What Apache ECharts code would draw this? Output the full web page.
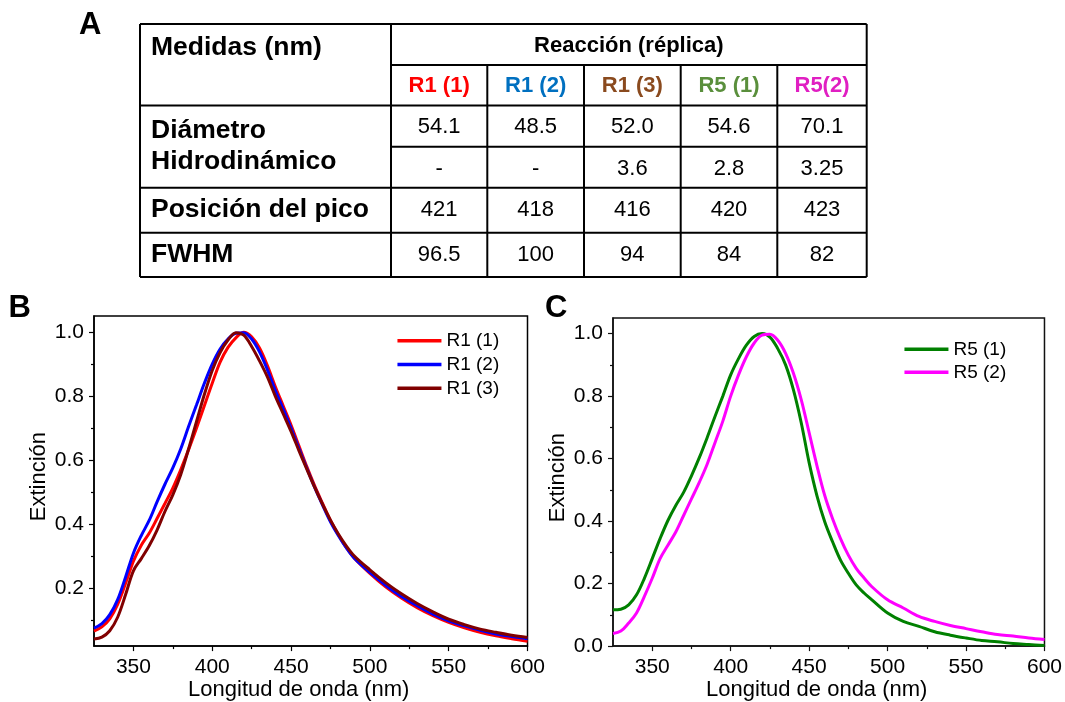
<!DOCTYPE html>
<html>
<head>
<meta charset="utf-8">
<script src="https://cdn.jsdelivr.net/npm/echarts@6/dist/echarts.min.js"></script>
<style>
html,body{margin:0;padding:0;background:#fff;}
#chart{width:1065px;height:702px;}
</style>
</head>
<body>
<div id="chart"></div>
<script>
// ---------- DATA ----------
const WL = [325,330,335,340,345,350,355,360,365,370,375,380,385,390,395,400,405,410,415,420,425,430,435,440,445,450,455,460,465,470,475,480,485,490,500,510,520,530,540,550,560,570,580,590,600];
const R1_1 = [0.067,0.080,0.105,0.150,0.215,0.285,0.335,0.372,0.418,0.465,0.513,0.570,0.633,0.700,0.770,0.840,0.906,0.952,0.982,0.999,0.985,0.950,0.895,0.830,0.770,0.710,0.645,0.580,0.520,0.465,0.412,0.368,0.328,0.295,0.247,0.205,0.170,0.140,0.115,0.094,0.077,0.063,0.052,0.043,0.035];
const R1_2 = [0.076,0.090,0.118,0.165,0.235,0.310,0.365,0.412,0.470,0.525,0.576,0.635,0.705,0.772,0.840,0.900,0.947,0.978,0.996,0.998,0.978,0.938,0.882,0.818,0.760,0.700,0.637,0.575,0.515,0.460,0.408,0.365,0.327,0.295,0.250,0.210,0.175,0.146,0.120,0.099,0.083,0.069,0.058,0.050,0.043];
const R1_3 = [0.042,0.048,0.068,0.110,0.180,0.255,0.293,0.333,0.382,0.440,0.492,0.555,0.635,0.720,0.805,0.880,0.936,0.975,0.998,0.990,0.955,0.910,0.860,0.800,0.745,0.690,0.630,0.572,0.515,0.462,0.413,0.370,0.333,0.302,0.258,0.218,0.183,0.153,0.127,0.104,0.087,0.073,0.063,0.054,0.047];
const R5_1 = [0.116,0.118,0.132,0.164,0.217,0.280,0.344,0.402,0.450,0.492,0.545,0.603,0.667,0.735,0.800,0.868,0.920,0.963,0.991,1.000,0.989,0.952,0.900,0.820,0.714,0.587,0.481,0.397,0.333,0.275,0.233,0.196,0.170,0.148,0.106,0.079,0.063,0.046,0.035,0.026,0.018,0.014,0.008,0.005,0.002];
const R5_2 = [0.040,0.048,0.074,0.106,0.159,0.217,0.280,0.323,0.365,0.418,0.471,0.524,0.582,0.651,0.720,0.800,0.868,0.926,0.970,0.995,0.998,0.979,0.937,0.873,0.788,0.683,0.577,0.481,0.407,0.344,0.291,0.249,0.218,0.190,0.148,0.122,0.095,0.079,0.066,0.056,0.046,0.037,0.032,0.026,0.021];

const NAMES_B = ['R1 (1)','R1 (2)','R1 (3)'];
const NAMES_C = ['R5 (1)','R5 (2)'];

const X_TICKS = [350,400,450,500,550,600];
const X_MINOR = [375,425,475,525,575];
const YB_TICKS = [0.2,0.4,0.6,0.8,1.0];
const YB_MINOR = [0.1,0.3,0.5,0.7,0.9];
const YC_TICKS = [0.0,0.2,0.4,0.6,0.8,1.0];
const YC_MINOR = [0.1,0.3,0.5,0.7,0.9];

// table data
const TABLE_HEAD = 'Medidas (nm)';
const TABLE_GROUP = 'Reacción (réplica)';
const TABLE_COLS = ['R1 (1)','R1 (2)','R1 (3)','R5 (1)','R5(2)'];
const ROW_LABELS = ['Diámetro','Hidrodinámico','Posición del pico','FWHM'];
const DIAM_1 = ['54.1','48.5','52.0','54.6','70.1'];
const DIAM_2 = ['-','-','3.6','2.8','3.25'];
const PICO = ['421','418','416','420','423'];
const FWHM = ['96.5','100','94','84','82'];

// ---------- STYLE / LAYOUT ----------
const FONT = '"Liberation Sans", Arial, Helvetica, sans-serif';
const HEAD_COLORS = ['#ff0000','#0070c0','#8a4a1e','#5a8f3c','#e01fc2'];
const LINE_COLORS_B = ['#ff0000','#0000ff','#800000'];
const LINE_COLORS_C = ['#008000','#ff00ff'];

const COL_X = [140, 391, 487.3, 584, 680.7, 777.3, 866.7];
const ROW_Y = [24, 65, 105.5, 146.7, 187.7, 232.7, 277];

function pairs(ys){ return WL.map((x,i)=>[x, ys[i]]); }

const g = [];
function line(x1,y1,x2,y2){
  g.push({type:'line', shape:{x1,y1,x2,y2}, style:{stroke:'#000', lineWidth:2}, silent:true});
}
function text(t, x, y, size, bold, color, align){
  g.push({type:'text', x:x, y:y, silent:true,
    style:{text:t, fill:color||'#000', fontFamily:FONT, fontSize:size, fontWeight:bold?'bold':'normal',
      align:align||'left', verticalAlign:'middle', textAlign:align||'left', textVerticalAlign:'middle'}});
}
// table grid lines
const L = COL_X[0], R = COL_X[COL_X.length-1], T = ROW_Y[0], B = ROW_Y[ROW_Y.length-1];
line(L,T,R,T); line(L,B,R,B); line(L,T,L,B); line(R,T,R,B);
line(COL_X[1],T,COL_X[1],B);
for (let i=2;i<COL_X.length-1;i++) line(COL_X[i],ROW_Y[1],COL_X[i],B);
line(COL_X[1],ROW_Y[1],R,ROW_Y[1]);
line(L,ROW_Y[2],R,ROW_Y[2]);
line(COL_X[1],ROW_Y[3],R,ROW_Y[3]);
line(L,ROW_Y[4],R,ROW_Y[4]);
line(L,ROW_Y[5],R,ROW_Y[5]);
// table texts
const colC = i => (COL_X[i+1]+COL_X[i+2])/2;
const LBL = 26.5;
text(TABLE_HEAD, 151, 48, LBL, true);
text(TABLE_GROUP, (COL_X[1]+R)/2, 45.8, 22, true, '#000', 'center');
TABLE_COLS.forEach((c,i)=>text(c, colC(i), 86.3, 22, true, HEAD_COLORS[i], 'center'));
text(ROW_LABELS[0], 151, 130.3, LBL, true);
text(ROW_LABELS[1], 151, 161.7, LBL, true);
text(ROW_LABELS[2], 151, 209.3, LBL, true);
text(ROW_LABELS[3], 151, 255, LBL, true);
DIAM_1.forEach((v,i)=>text(v, colC(i), 127, 22, false, '#000', 'center'));
DIAM_2.forEach((v,i)=>text(v, colC(i), 169, 22, false, '#000', 'center'));
PICO.forEach((v,i)=>text(v, colC(i), 209.5, 22, false, '#000', 'center'));
FWHM.forEach((v,i)=>text(v, colC(i), 254.5, 22, false, '#000', 'center'));
// panel letters
text('A', 79, 25.5, 31, true);
text('B', 8.5, 308.3, 31, true);
text('C', 545, 308.3, 31, true);

// ---------- AXES ----------
function mainX(grid, axColor){
  return {gridIndex:grid, type:'value', position:'bottom', min:325, max:600,
    name:'Longitud de onda (nm)', nameLocation:'middle', nameGap:31,
    nameTextStyle:{fontSize:22, color:'#000', fontFamily:FONT, padding:[0,24,0,0]},
    axisLine:{show:true, onZero:false, lineStyle:{color:axColor, width:1.5}},
    axisTick:{show:true, customValues:X_TICKS, length:5, lineStyle:{color:axColor, width:1.2}},
    axisLabel:{customValues:X_TICKS, color:'#000', fontSize:21, fontFamily:FONT, margin:11},
    splitLine:{show:false}};
}
function minorX(grid, axColor){
  return {gridIndex:grid, type:'value', position:'bottom', min:325, max:600, offset:0,
    axisLine:{show:false, onZero:false},
    axisTick:{show:true, customValues:X_MINOR, length:3, lineStyle:{color:axColor, width:1.2}},
    axisLabel:{show:false}, splitLine:{show:false}};
}
function mainY(grid, mn, ticks, axColor){
  return {gridIndex:grid, type:'value', position:'left', min:mn, max:1.05,
    name:'Extinción', nameLocation:'middle', nameGap:44,
    nameTextStyle:{fontSize:22, color:'#000', fontFamily:FONT, padding:[0,0,0,9]},
    axisLine:{show:true, onZero:false, lineStyle:{color:axColor, width:1.5}},
    axisTick:{show:true, customValues:ticks, length:5, lineStyle:{color:axColor, width:1.2}},
    axisLabel:{customValues:ticks, color:'#000', fontSize:21, fontFamily:FONT, margin:10,
      formatter:v=>Number(v).toFixed(1)},
    splitLine:{show:false}};
}
function minorY(grid, mn, ticks, axColor){
  return {gridIndex:grid, type:'value', position:'left', min:mn, max:1.05, offset:0,
    axisLine:{show:false, onZero:false},
    axisTick:{show:true, customValues:ticks, length:3, lineStyle:{color:axColor, width:1.2}},
    axisLabel:{show:false}, splitLine:{show:false}};
}

function series(name, ys, color, xi, yi){
  return {type:'line', name:name, xAxisIndex:xi, yAxisIndex:yi, data:pairs(ys),
    symbol:'none', showSymbol:false, smooth:0.35,
    lineStyle:{width:3, color:color}, itemStyle:{color:color}};
}

const legendCommon = {orient:'vertical', itemWidth:44, itemHeight:14, selectedMode:false, padding:0,
  itemStyle:{opacity:0}, lineStyle:{width:3.5},
  textStyle:{fontSize:19, color:'#000', fontFamily:FONT, lineHeight:20}};

const option = {
  animation:false,
  backgroundColor:'#fff',
  textStyle:{fontFamily:FONT},
  grid:[
    {left:94, right:537.5, top:316, bottom:52, show:true, borderColor:'#000', borderWidth:1.5, backgroundColor:'rgba(0,0,0,0)'},
    {left:613, right:18, top:318, bottom:53, show:true, borderColor:'#111', borderWidth:1.5, backgroundColor:'rgba(0,0,0,0)'}
  ],
  xAxis:[mainX(0,'#000'), minorX(0,'#000'), mainX(1,'#111'), minorX(1,'#111')],
  yAxis:[mainY(0,0.02,YB_TICKS,'#000'), minorY(0,0.02,YB_MINOR,'#000'), mainY(1,0,YC_TICKS,'#111'), minorY(1,0,YC_MINOR,'#111')],
  legend:[
    Object.assign({}, legendCommon, {data:NAMES_B, left:395.7, top:330.7, itemGap:3.8}),
    Object.assign({}, legendCommon, {data:NAMES_C, left:902.7, top:339.3, itemGap:3})
  ],
  series:[
    series(NAMES_B[0], R1_1, LINE_COLORS_B[0], 0, 0),
    series(NAMES_B[1], R1_2, LINE_COLORS_B[1], 0, 0),
    series(NAMES_B[2], R1_3, LINE_COLORS_B[2], 0, 0),
    series(NAMES_C[0], R5_1, LINE_COLORS_C[0], 2, 2),
    series(NAMES_C[1], R5_2, LINE_COLORS_C[1], 2, 2)
  ],
  graphic:{elements:g}
};

const chart = echarts.init(document.getElementById('chart'), null, {renderer:'canvas'});
chart.setOption(option);
</script>
</body>
</html>
